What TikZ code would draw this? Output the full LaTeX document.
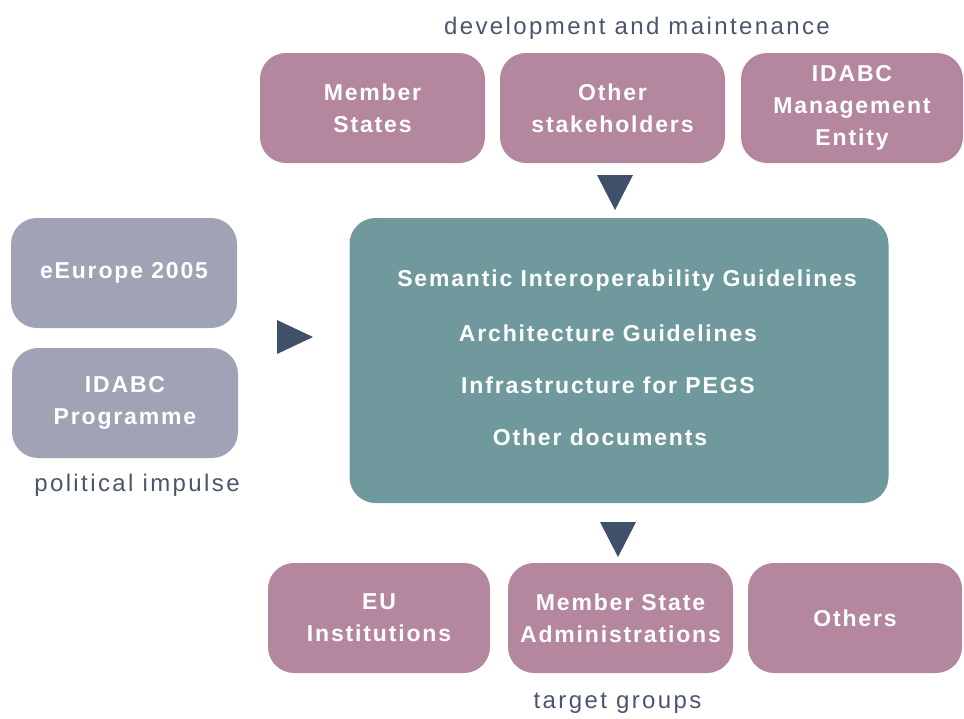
\documentclass[tikz,border=0pt]{standalone}
\usepackage{fontspec}
\setmainfont{Liberation Sans}
\newfontfamily\boxfont[LetterSpace=8.0]{Liberation Sans}
\newfontfamily\labfont[LetterSpace=10.0]{Liberation Sans}
\definecolor{mauve}{HTML}{B4879F}
\definecolor{greyblue}{HTML}{A0A3B6}
\definecolor{tealbox}{HTML}{6F999C}
\definecolor{arrowc}{HTML}{3F5068}
\definecolor{labc}{HTML}{4A566E}
\tikzset{
  box/.style={rounded corners=26pt, inner sep=0pt, align=center, text=white,
    font=\boxfont\bfseries\fontsize{23}{32}\selectfont},
  pinkbox/.style={box, fill=mauve},
  greybox/.style={box, fill=greyblue},
  centerbox/.style={box, fill=tealbox},
  doctext/.style={text=white, inner sep=0pt, font=\boxfont\bfseries\fontsize{23}{28}\selectfont},
  lab/.style={text=labc, inner sep=0pt, font=\labfont\fontsize{24}{28}\selectfont},
  tri/.style={fill=arrowc}
}
\begin{document}
\begin{tikzpicture}[x=1pt,y=-1pt]
\useasboundingbox (0,0) rectangle (964,718);
% top row
\node[pinkbox, minimum width=225pt, minimum height=110pt] (ms) at (372.5,108) {Member\\States};
\node[pinkbox, minimum width=225pt, minimum height=110pt] (os) at (612.5,108) {Other\\stakeholders};
\node[pinkbox, minimum width=222pt, minimum height=110pt] (me) at (852,108) {IDABC\\Management\\Entity};
\node[lab] (dev) at (637,28) {development and maintenance};
% left column
\node[greybox, minimum width=226pt, minimum height=110pt] (ee) at (124,273) {eEurope 2005};
\node[greybox, minimum width=226pt, minimum height=110pt] (ip) at (125,403) {IDABC\\Programme};
\node[lab] (pol) at (137,485) {political impulse};
% center
\node[centerbox, minimum width=539pt, minimum height=285pt] (cb) at (619,360.5) {};
\node[doctext] (d1) at (627,281) {Semantic Interoperability Guidelines};
\node[doctext] (d2) at (608,333) {Architecture Guidelines};
\node[doctext] (d3) at (608,385) {Infrastructure for PEGS};
\node[doctext] (d4) at (600,437) {Other documents};
% bottom row
\node[pinkbox, minimum width=222pt, minimum height=110pt] (eu) at (379,618) {EU\\Institutions};
\node[pinkbox, minimum width=225pt, minimum height=110pt] (msa) at (620.5,618) {Member State\\Administrations};
\node[pinkbox, minimum width=214pt, minimum height=110pt] (oth) at (855,618) {Others};
\node[lab] (tg) at (617.5,703) {target groups};
% arrowheads
\fill[tri] (597,175) -- (633,175) -- (615,210) -- cycle;
\fill[tri] (277,320) -- (313,337) -- (277,354) -- cycle;
\fill[tri] (600,522) -- (636,522) -- (618,557) -- cycle;
\end{tikzpicture}
\end{document}
